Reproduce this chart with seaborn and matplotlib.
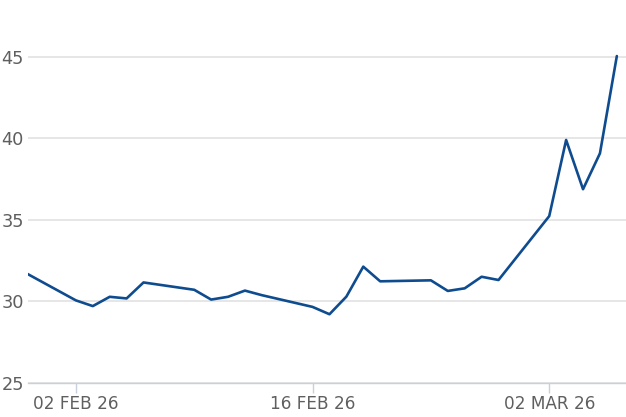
import matplotlib
matplotlib.use("Agg")
import matplotlib.pyplot as plt
import matplotlib.dates as mdates
import seaborn as sns
import pandas as pd

# daily closes
dates = ["2026-01-30",
         "2026-02-02", "2026-02-03", "2026-02-04", "2026-02-05", "2026-02-06",
         "2026-02-09", "2026-02-10", "2026-02-11", "2026-02-12", "2026-02-13",
         "2026-02-16", "2026-02-17", "2026-02-18", "2026-02-19", "2026-02-20",
         "2026-02-23", "2026-02-24", "2026-02-25", "2026-02-26", "2026-02-27",
         "2026-03-02", "2026-03-03", "2026-03-04", "2026-03-05", "2026-03-06"]
values = [31.75,
          30.05, 29.70, 30.27, 30.17, 31.15,
          30.70, 30.10, 30.27, 30.65, 30.37,
          29.65, 29.20, 30.28, 32.12, 31.22,
          31.28, 30.63, 30.79, 31.50, 31.30,
          35.22, 39.89, 36.87, 39.07, 45.04]
xticks = ["2026-02-02", "2026-02-16", "2026-03-02"]
yticks = [25, 30, 35, 40, 45]

df = pd.DataFrame({"date": pd.to_datetime(dates), "value": values})

sns.set_theme(style="white")
plt.rcParams["font.family"] = ["DejaVu Sans"]

fig = plt.figure(figsize=(6.26, 4.17), dpi=100)
ax = fig.add_axes([28 / 626, (417 - 382.7) / 417, 1 - 28 / 626, 382.7 / 417])

sns.lineplot(data=df, x="date", y="value", ax=ax, color="#0f4c8f", linewidth=1.9)

ax.set_xlim(pd.Timestamp("2026-01-30") + pd.Timedelta(hours=4),
            pd.Timestamp("2026-03-06") + pd.Timedelta(hours=13))
ax.set_ylim(25, 25 + 382.7 / 16.3)

ax.set_yticks(yticks)
ax.set_xticks(pd.to_datetime(xticks))
ax.xaxis.set_major_formatter(mdates.DateFormatter("%d %b %y"))
ax.set_xticklabels([pd.Timestamp(t).strftime("%d %b %y").upper() for t in xticks])

ax.grid(axis="y", color="#e4e4e4", linewidth=1.3)
ax.set_axisbelow(True)
for s in ["left", "right", "top"]:
    ax.spines[s].set_visible(False)
ax.spines["bottom"].set_color("#c8d0db")
ax.spines["bottom"].set_linewidth(1.0)

ax.tick_params(axis="x", length=7.5, width=1.0, color="#c8d0db", pad=1.5,
               labelsize=12.2, labelcolor="#5f5f5f", bottom=True)
ax.tick_params(axis="y", length=0, pad=3, labelsize=12.8, labelcolor="#5f5f5f")

ax.set_xlabel("")
ax.set_ylabel("")

fig.savefig("out.png", dpi=100)
